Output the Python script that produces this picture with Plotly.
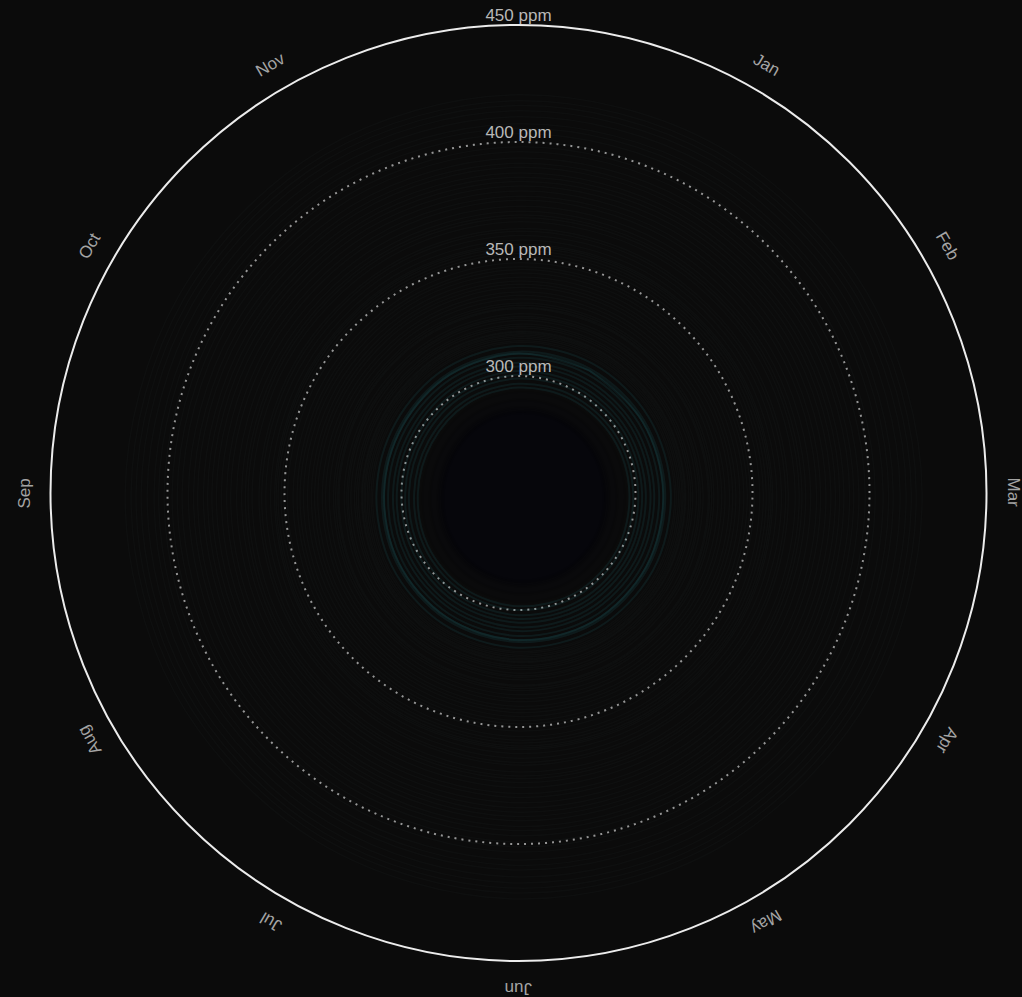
import math
import plotly.graph_objects as go

# ---------------- data ----------------
months = ["Jan", "Feb", "Mar", "Apr", "May", "Jun",
          "Jul", "Aug", "Sep", "Oct", "Nov", "Dec"]
month_deg = [30, 60, 90, 120, 150, 180, 210, 240, 270, 300, 330, 360]

# mean seasonal deviation (ppm) per month
seasonal = [0.0, 0.7, 1.4, 2.6, 3.1, 2.4, 0.9, -1.2, -3.0, -3.2, -2.0, -0.9]

# annual mean CO2 concentration (ppm)
years = [1850, 1860, 1870, 1880, 1890, 1900, 1905, 1910, 1915, 1920, 1925,
         1930, 1935, 1940, 1945, 1950, 1955,
         1958, 1959, 1960, 1961, 1962, 1963, 1964, 1965, 1966, 1967, 1968,
         1969, 1970, 1971, 1972, 1973, 1974, 1975, 1976, 1977, 1978, 1979,
         1980, 1981, 1982, 1983, 1984, 1985, 1986, 1987, 1988, 1989, 1990,
         1991, 1992, 1993, 1994, 1995, 1996, 1997, 1998, 1999, 2000, 2001,
         2002, 2003, 2004, 2005, 2006, 2007, 2008, 2009, 2010, 2011, 2012,
         2013, 2014, 2015, 2016, 2017, 2018, 2019, 2020, 2021, 2022, 2023]
ppm = [285.2, 286.1, 287.4, 290.7, 294.3, 296.0, 297.6, 299.8, 301.4, 303.0,
       305.0, 306.6, 308.7, 310.5, 310.4, 311.3, 313.7,
       315.3, 315.98, 316.91, 317.64, 318.45, 318.99, 319.62, 320.04, 321.37,
       322.18, 323.05, 324.62, 325.68, 326.32, 327.46, 329.68, 330.19, 331.13,
       332.03, 333.84, 335.41, 336.84, 338.76, 340.12, 341.48, 343.15, 344.87,
       346.35, 347.61, 349.31, 351.69, 353.20, 354.45, 355.70, 356.54, 357.21,
       358.96, 360.97, 362.74, 363.88, 366.84, 368.54, 369.71, 371.32, 373.45,
       375.98, 377.70, 379.98, 382.09, 384.02, 385.83, 387.64, 390.10, 391.85,
       394.06, 396.74, 398.81, 401.01, 404.41, 406.76, 408.72, 411.66, 414.24,
       416.45, 418.56, 421.08]

ring_labels = [300, 350, 400, 450]

# ---------------- figure ----------------
BG = "#0b0b0b"
FONT = "Liberation Sans, Arial, Helvetica, sans-serif"
fig = go.Figure()


def ring_style(year):
    if year < 1900:
        return dict(color="rgba(0,0,0,0.08)", width=3), "toself", "rgba(3,1,8,0.07)"
    if year < 1958:
        return dict(color="rgba(40,140,150,0.12)", width=2), "none", None
    return dict(color="rgba(110,130,130,0.035)", width=1.5), "none", None


for y, base in zip(years, ppm):
    r = [base + s for s in seasonal] + [base + seasonal[0]]
    th = month_deg + [month_deg[0] + 360]
    line, fill, fillc = ring_style(y)
    fig.add_trace(go.Scatterpolar(
        r=r, theta=th, mode="lines", line=dict(shape="spline", **line),
        fill=fill, fillcolor=fillc, hoverinfo="skip", showlegend=False))

# ppm labels at the top of each ring
fig.add_trace(go.Scatterpolar(
    r=ring_labels, theta=[0] * len(ring_labels), mode="text",
    text=[f"{v} ppm" for v in ring_labels], textposition="top center",
    textfont=dict(family=FONT, size=17, color="#b8b8b8"),
    cliponaxis=False, hoverinfo="skip", showlegend=False))

ML, MR, MT, MB = 50, 35, 25, 36
W, H = 1022, 997
pw, ph = W - ML - MR, H - MT - MB
R_LABEL = 495  # px from centre

annotations = []
for name, deg in zip(months[:-1], month_deg[:-1]):
    a = math.radians(deg)
    ang = deg if deg <= 180 else deg - 360
    annotations.append(dict(
        x=0.5 + R_LABEL * math.sin(a) / pw,
        y=0.5 + R_LABEL * math.cos(a) / ph,
        xref="paper", yref="paper", text=name, showarrow=False,
        textangle=ang, xanchor="center", yanchor="middle",
        font=dict(family=FONT, size=17, color="#a4a4a4")))

fig.update_layout(
    width=W, height=H,
    paper_bgcolor=BG, plot_bgcolor=BG,
    margin=dict(l=ML, r=MR, t=MT, b=MB),
    showlegend=False,
    annotations=annotations,
    polar=dict(
        bgcolor=BG,
        domain=dict(x=[0, 1], y=[0, 1]),
        radialaxis=dict(range=[250, 450], tickvals=[300, 350, 400],
                        showticklabels=False, ticks="", showline=False,
                        gridcolor="rgba(175,175,175,0.85)", griddash="2px,5px",
                        gridwidth=1.5),
        angularaxis=dict(rotation=90, direction="clockwise", showgrid=False,
                         showticklabels=False, ticks="", showline=True,
                         linecolor="#ececec", linewidth=2),
    ),
)

fig.write_html(
    "out.html",
    config={"displayModeBar": False},
    post_script="document.body.style.margin='0';"
                "document.body.style.background='#0b0b0b';"
                "document.documentElement.style.overflow='hidden';",
)
